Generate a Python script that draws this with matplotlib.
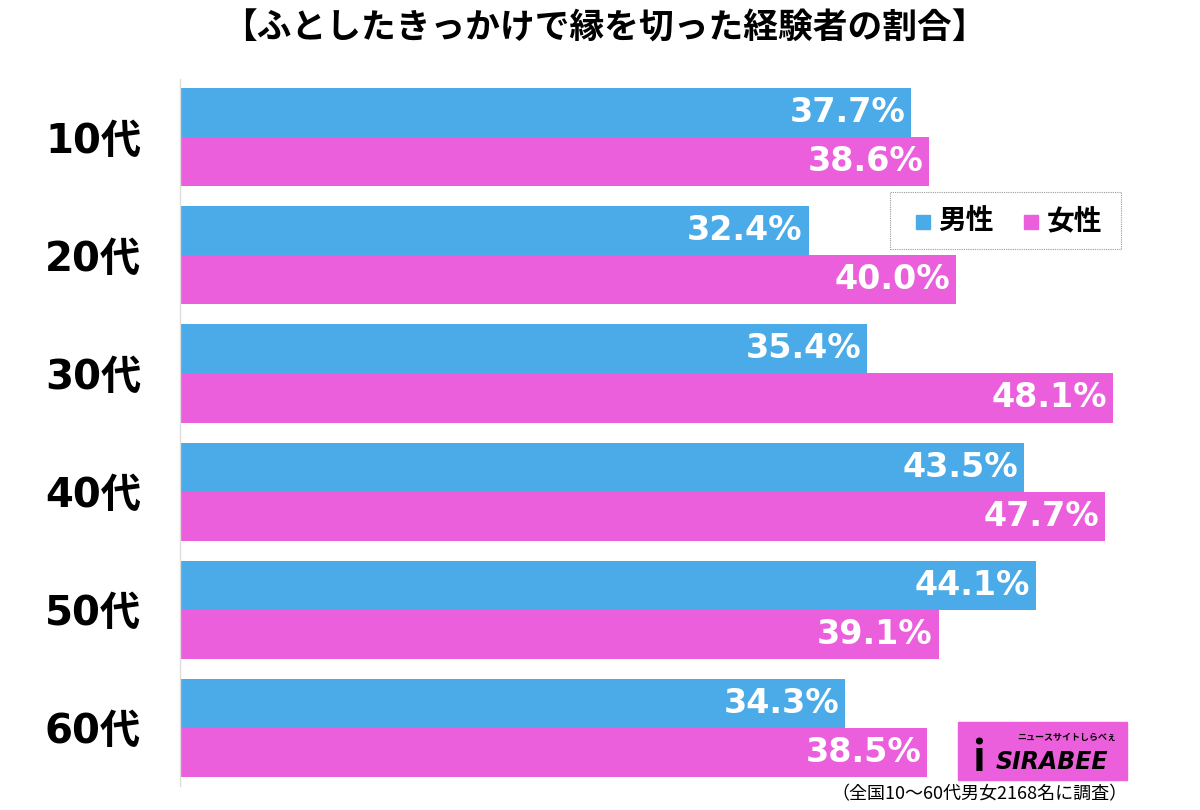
import matplotlib.pyplot as plt
from matplotlib.patches import Rectangle
import numpy as np

plt.rcParams['font.family'] = ['Noto Sans CJK JP', 'DejaVu Sans']

categories = ['10代', '20代', '30代', '40代', '50代', '60代']
male = [37.7, 32.4, 35.4, 43.5, 44.1, 34.3]
female = [38.6, 40.0, 48.1, 47.7, 39.1, 38.5]
series_names = ['男性', '女性']
title = '【ふとしたきっかけで縁を切った経験者の割合】'
note = '（全国10～60代男女2168名に調査）'

blue = '#4aabe8'
pink = '#ec5fdc'
num_font = ['DejaVu Sans', 'Noto Sans CJK JP']

fig = plt.figure(figsize=(12, 8.1), dpi=100)
ax = fig.add_axes([0.15, 0.03, 0.835, 0.872])

y = np.arange(len(categories))
h = 0.415
ax.barh(y - h / 2, male, height=h, color=blue)
ax.barh(y + h / 2, female, height=h, color=pink)

for i in range(len(categories)):
    ax.text(male[i] - 0.3, y[i] - h / 2, f'{male[i]:.1f}%', color='white',
            fontsize=24, fontweight='bold', ha='right', va='center', family=num_font)
    ax.text(female[i] - 0.3, y[i] + h / 2, f'{female[i]:.1f}%', color='white',
            fontsize=24, fontweight='bold', ha='right', va='center', family=num_font)

ax.set_xlim(0, 51.65)
ax.set_ylim(5.49, -0.49)
ax.set_yticks(y)
ax.set_yticklabels(categories, fontsize=29, fontweight='bold', family=num_font)
ax.tick_params(axis='y', length=0, pad=28)
ax.set_xticks([])
for s in ['top', 'right', 'bottom']:
    ax.spines[s].set_visible(False)
ax.spines['left'].set_color('#dddddd')
ax.spines['left'].set_linewidth(1)

fig.text(0.504, 0.965, title, ha='center', va='center', fontsize=25, fontweight='bold')

# legend
leg_box = Rectangle((0.742, 0.692), 0.192, 0.071, transform=fig.transFigure,
                    facecolor='white', edgecolor='#999999', linestyle=(0, (1, 1)),
                    linewidth=0.8)
fig.patches.append(leg_box)
fig.patches.append(Rectangle((0.763, 0.717), 0.012, 0.018, transform=fig.transFigure,
                             color=blue))
fig.text(0.782, 0.727, series_names[0], fontsize=20, fontweight='bold', va='center')
fig.patches.append(Rectangle((0.853, 0.717), 0.012, 0.018, transform=fig.transFigure,
                             color=pink))
fig.text(0.872, 0.727, series_names[1], fontsize=20, fontweight='bold', va='center')

# logo
fig.patches.append(Rectangle((0.798, 0.037), 0.141, 0.072, transform=fig.transFigure,
                             color=pink))
fig.text(0.81, 0.063, 'i', fontsize=30, fontweight='bold', color='black', va='center')
fig.text(0.83, 0.059, 'SIRABEE', fontsize=17, fontweight='heavy', fontstyle='italic',
         color='black', va='center', family='DejaVu Sans')
fig.text(0.848, 0.09, 'ニュースサイトしらべぇ', fontsize=6.5, fontweight='bold',
         color='black', va='center')

fig.text(0.94, 0.019, note, ha='right', va='center', fontsize=13)

fig.savefig('out.png', dpi=100)
